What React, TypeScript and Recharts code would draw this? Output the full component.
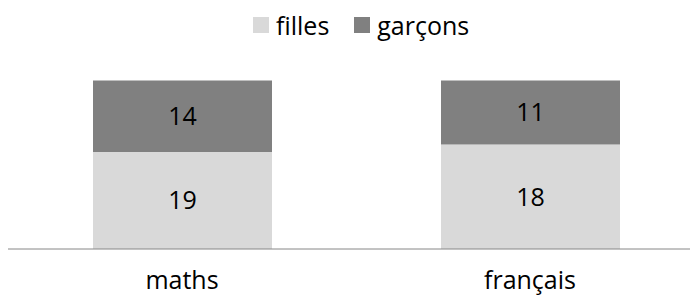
import React from 'react';
import { BarChart, Bar, XAxis, YAxis, Legend, LabelList } from 'recharts';

const categories = ['maths', 'français'];
const filles = [19, 18];
const garcons = [14, 11];

const data = categories.map((c, i) => ({ name: c, filles: filles[i], garcons: garcons[i] }));

const FONT = '"Open Sans", sans-serif';
const TEXT = '#000';

const renderLegend = (props: any) => {
  const { payload } = props;
  return (
    <div style={{ display: 'flex', alignItems: 'center', fontFamily: FONT, fontSize: 25, color: TEXT }}>
      {payload.map((p: any, i: number) => (
        <div key={i} style={{ display: 'flex', alignItems: 'center', marginRight: 25 }}>
          <div style={{ width: 16, height: 16, background: p.color, marginRight: 7 }} />
          <span style={{ lineHeight: '16px' }}>{p.value}</span>
        </div>
      ))}
    </div>
  );
};

export default function App() {
  return (
    <div style={{ width: 690, height: 294, overflow: 'hidden', background: '#fff' }}>
      <BarChart
        width={696}
        height={294}
        data={data}
        stackOffset="expand"
        margin={{ top: 72.5, right: 0, left: 0, bottom: 0 }}
      >
        <XAxis
          dataKey="name"
          height={53}
          tickLine={false}
          tickSize={0}
          tickMargin={22}
          axisLine={{ stroke: '#868686', strokeWidth: 1 }}
          tick={{ fill: TEXT, fontSize: 25, fontFamily: FONT }}
        />
        <YAxis hide domain={[0, 1]} />
        <Legend
          layout="horizontal"
          verticalAlign="middle"
          content={renderLegend}
          wrapperStyle={{ top: 9, left: 245, width: 'auto' }}
        />
        <Bar dataKey="filles" name="filles" stackId="a" fill="#d9d9d9" barSize={179} isAnimationActive={false}>
          <LabelList dataKey="filles" position="center" fill={TEXT} fontSize={25} fontFamily={FONT} />
        </Bar>
        <Bar dataKey="garcons" name="garçons" stackId="a" fill="#808080" barSize={179} isAnimationActive={false}>
          <LabelList dataKey="garcons" position="center" fill={TEXT} fontSize={25} fontFamily={FONT} />
        </Bar>
      </BarChart>
    </div>
  );
}
